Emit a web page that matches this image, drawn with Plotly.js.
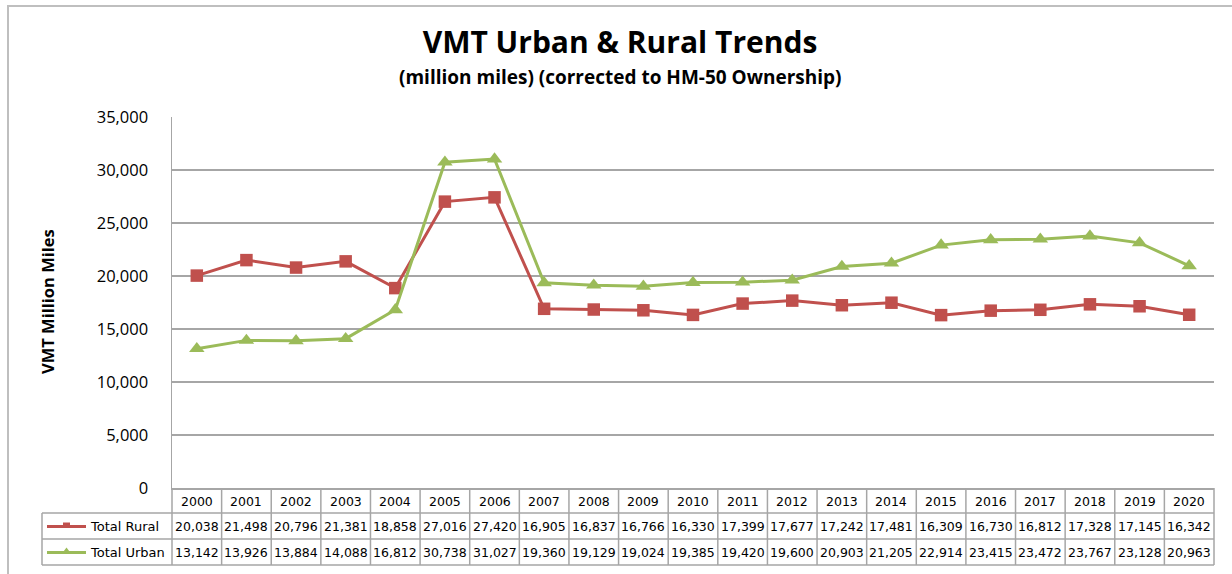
<!DOCTYPE html>
<html>
<head>
<meta charset="utf-8">
<script src="https://cdn.plot.ly/plotly-3.0.1.min.js"></script>
<style>html,body{margin:0;padding:0;background:#fff;}#chart{width:1232px;height:574px;}</style>
</head>
<body>
<div id="chart"></div>
<script>
const years = ["2000","2001","2002","2003","2004","2005","2006","2007","2008","2009","2010","2011","2012","2013","2014","2015","2016","2017","2018","2019","2020"];
const totalRural = [20038,21498,20796,21381,18858,27016,27420,16905,16837,16766,16330,17399,17677,17242,17481,16309,16730,16812,17328,17145,16342];
const totalUrban = [13142,13926,13884,14088,16812,30738,31027,19360,19129,19024,19385,19420,19600,20903,21205,22914,23415,23472,23767,23128,20963];
const seriesNames = ["Total Rural","Total Urban"];
const yTicks = [0,5000,10000,15000,20000,25000,30000,35000];

const W = 1232, H = 574;
const L = 172, R = 1214, T = 117, B = 488;
const pw = R - L, ph = B - T;
const px = p => (p - L) / pw;
const py = p => (B - p) / ph;

const red = '#c0504d', green = '#9bbb59', gridc = '#a6a6a6', tablec = '#a6a6a6';
const fmt = v => v.toLocaleString('en-US');

const traces = [
  {x: years, y: totalRural, name: seriesNames[0], type: 'scatter', mode: 'lines+markers',
   line: {color: red, width: 3}, marker: {symbol: 'square', size: 12.5, color: red}},
  {x: years, y: totalUrban, name: seriesNames[1], type: 'scatter', mode: 'lines+markers',
   line: {color: green, width: 3}, marker: {symbol: 'triangle-up', size: 13.5, color: green}}
];

const shapes = [];
const annotations = [];
const tableFont = {family: 'DejaVu Sans', size: 12.5, color: '#000'};

// outer chart border
shapes.push({type: 'rect', xref: 'paper', yref: 'paper', x0: px(8), x1: px(1250), y0: py(6), y1: py(590),
  line: {color: '#bfbfbf', width: 2}});

// table lines
[513, 539, 565].forEach(yy => {
  shapes.push({type: 'line', xref: 'paper', yref: 'paper', x0: px(42), x1: px(R), y0: py(yy), y1: py(yy), line: {color: tablec, width: 1.5}});
});
shapes.push({type: 'line', xref: 'paper', yref: 'paper', x0: px(42), x1: px(42), y0: py(513), y1: py(565), line: {color: tablec, width: 1.5}});
for (let i = 0; i <= years.length; i++) {
  const xp = L + pw * i / years.length;
  shapes.push({type: 'line', xref: 'paper', yref: 'paper', x0: px(xp), x1: px(xp), y0: py(488), y1: py(565), line: {color: tablec, width: 1.5}});
}

// table text (category axis: annotation x is the category index)
years.forEach((yr, i) => {
  annotations.push({x: i, xref: 'x', y: py(501), yref: 'paper', text: yr, showarrow: false, font: tableFont, xanchor: 'center', yanchor: 'middle'});
  annotations.push({x: i, xref: 'x', y: py(526.5), yref: 'paper', text: fmt(totalRural[i]), showarrow: false, font: tableFont, xanchor: 'center', yanchor: 'middle'});
  annotations.push({x: i, xref: 'x', y: py(552.5), yref: 'paper', text: fmt(totalUrban[i]), showarrow: false, font: tableFont, xanchor: 'center', yanchor: 'middle'});
});

// legend keys in table
[[526.5, red, 'square'], [552.5, green, 'tri']].forEach((k, j) => {
  const yy = k[0];
  shapes.push({type: 'line', xref: 'paper', yref: 'paper', x0: px(47), x1: px(86), y0: py(yy), y1: py(yy), line: {color: k[1], width: 3}});
  if (k[2] === 'square') {
    shapes.push({type: 'rect', xref: 'paper', yref: 'paper', x0: px(63), x1: px(70), y0: py(yy - 4), y1: py(yy + 1), fillcolor: k[1], line: {width: 0}});
  } else {
    shapes.push({type: 'path', xref: 'paper', yref: 'paper',
      path: 'M ' + px(62) + ' ' + py(yy + 1) + ' L ' + px(71) + ' ' + py(yy + 1) + ' L ' + px(66.5) + ' ' + py(yy - 5) + ' Z',
      fillcolor: k[1], line: {width: 0}});
  }
  annotations.push({x: px(88), xref: 'paper', y: py(yy), yref: 'paper', text: seriesNames[j], showarrow: false,
    font: {family: 'DejaVu Sans', size: 13, color: '#000'}, xanchor: 'left', yanchor: 'middle'});
});

// subtitle
annotations.push({x: px(620), xref: 'paper', y: py(77), yref: 'paper', text: '<b>(million miles) (corrected to HM-50 Ownership)</b>',
  showarrow: false, font: {family: 'Open Sans', size: 19, color: '#000'}, xanchor: 'center', yanchor: 'middle'});
// y-axis title
annotations.push({x: px(47), xref: 'paper', y: py(302), yref: 'paper', text: '<b>VMT Million Miles</b>', textangle: -90,
  showarrow: false, font: {family: 'Open Sans', size: 16.5, color: '#000'}, xanchor: 'center', yanchor: 'middle'});

const layout = {
  width: W, height: H,
  margin: {l: L, r: W - R, t: T, b: H - B},
  paper_bgcolor: '#fff', plot_bgcolor: '#fff',
  showlegend: false,
  title: {text: '<b>VMT Urban & Rural Trends</b>', x: 620 / W, xref: 'container', xanchor: 'center',
    y: 1 - 42 / H, yref: 'container', yanchor: 'middle', font: {family: 'Open Sans', size: 30, color: '#000'}},
  xaxis: {type: 'category', range: [-0.5, years.length - 0.5], showgrid: false, showticklabels: false, ticks: '',
    showline: true, linecolor: tablec, linewidth: 1.5, zeroline: false, fixedrange: true},
  yaxis: {range: [0, 35000], tickvals: yTicks, ticktext: yTicks.map(fmt), showgrid: true, gridcolor: gridc, gridwidth: 1.5,
    showline: true, linecolor: gridc, linewidth: 1.5, zeroline: false, ticks: '', ticklen: 0, ticklabelstandoff: 19,
    tickfont: {family: 'Open Sans', size: 16.5, color: '#000'}, fixedrange: true},
  shapes: shapes,
  annotations: annotations
};

Plotly.newPlot('chart', traces, layout, {displayModeBar: false, staticPlot: true});
</script>
</body>
</html>
